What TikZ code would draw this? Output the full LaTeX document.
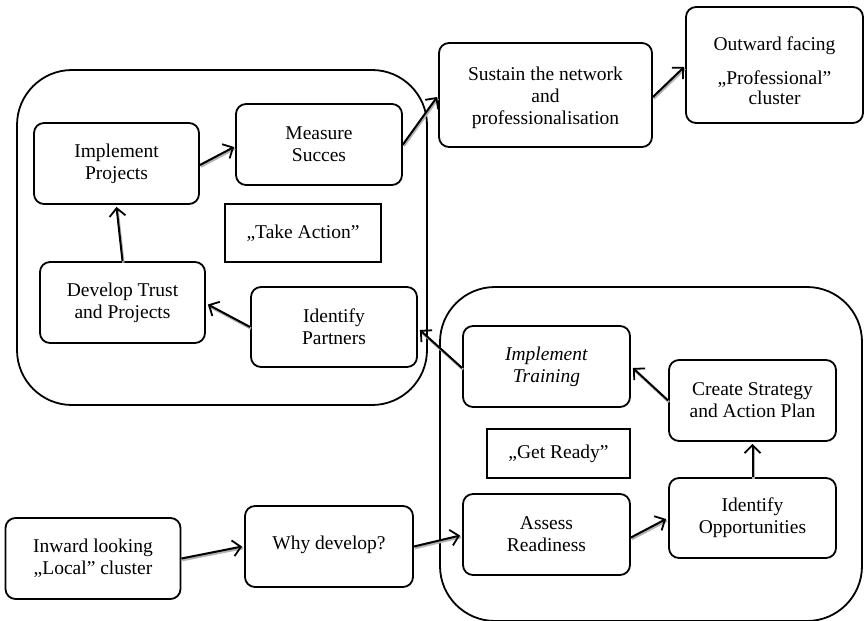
\documentclass[tikz,border=0pt]{standalone}
\usepackage{fontspec}
\setmainfont{Liberation Serif}
\usetikzlibrary{arrows.meta,calc}
\newcommand\shadowarrow[2]{%
  \draw[shad, transform canvas={shift={(0.9pt,-1.6pt)}}] #1 -- #2;
  \draw[arr] #1 -- #2;}
\begin{document}
\begin{tikzpicture}[x=1pt,y=-1pt,
  box/.style={draw, line width=1.8pt, rounded corners=10pt, align=center, inner sep=0pt,
    font=\fontsize{19.5}{22}\selectfont},
  lbl/.style={draw, line width=1.5pt, align=center, inner sep=0pt, font=\fontsize{19.5}{22}\selectfont},
  cont/.style={draw, line width=1.8pt, rounded corners=55pt},
  arr/.style={line width=2pt, -{Straight Barb[length=8pt,width=16pt,line width=1.8pt]}},
  shad/.style={draw=gray!60, line width=2.4pt}
]
\useasboundingbox (0,0) rectangle (865,621);
% containers
\draw[cont] (17,70) rectangle (427,405);
\draw[cont] (440,287) rectangle (862,621);
% nodes
\node[box, minimum width=165pt, minimum height=81pt] (ip) at (116.5,163.5) {Implement\\Projects};
\node[box, minimum width=166pt, minimum height=81pt] (ms) at (319,144.5) {Measure\\Succes};
\node[lbl, minimum width=156pt, minimum height=58pt] (ta) at (303,233) {„Take Action”};
\node[box, minimum width=165pt, minimum height=81pt] (dt) at (122.5,302.5) {Develop Trust\\and Projects};
\node[box, minimum width=166pt, minimum height=80pt] (idp) at (334,327) {Identify\\Partners};
\node[box, minimum width=213pt, minimum height=104pt] (su) at (545.5,95) {\parbox{200pt}{\centering\vspace*{6pt}Sustain the network\\and\\professionalisation}};
\node[box, minimum width=177pt, minimum height=116pt] (ou) at (774.5,65) {\parbox{170pt}{\centering\vspace*{12pt}Outward facing\\[12pt]„Professional”\\[-2pt]cluster}};
\node[box, minimum width=167pt, minimum height=81pt] (it) at (546.5,366.5) {\textit{Implement}\\\textit{Training}};
\node[box, minimum width=167pt, minimum height=81pt] (cs) at (752.5,400.5) {Create Strategy\\and Action Plan};
\node[lbl, minimum width=143pt, minimum height=49pt] (gr) at (558.5,453.5) {„Get Ready”};
\node[box, minimum width=167pt, minimum height=81pt] (ar) at (546.5,534.5) {Assess\\Readiness};
\node[box, minimum width=167pt, minimum height=80pt] (io) at (752.5,518) {Identify\\Opportunities};
\node[box, minimum width=168pt, minimum height=81pt] (wd) at (329,546.5) {\raisebox{8pt}{Why develop?}};
\node[box, minimum width=175pt, minimum height=81pt] (il) at (93,558.5) {\raisebox{6pt}{\parbox{170pt}{\centering Inward looking\\„Local” cluster}}};
% arrows
\shadowarrow{($(ip.east)+(0,1.5)$)}{($(ms.west)+(-1,2.5)$)}
\shadowarrow{(dt.north)}{($(ip.south)+(0,2)$)}
\shadowarrow{(idp.west)}{($(dt.east)+(2,2)$)}
\shadowarrow{(ms.east)}{($(su.west)+(-1,2)$)}
\shadowarrow{($(su.east)+(0,2)$)}{($(ou.west)+(-1,2)$)}
\shadowarrow{($(it.west)+(0,1.5)$)}{($(idp.east)+(2,3)$)}
\shadowarrow{(cs.west)}{($(it.east)+(2,1.5)$)}
\shadowarrow{(io.north)}{($(cs.south)+(0,2)$)}
\shadowarrow{($(ar.east)+(0,3)$)}{($(io.west)+(-2,1)$)}
\shadowarrow{(wd.east)}{($(ar.west)+(-2,1)$)}
\shadowarrow{(il.east)}{($(wd.west)+(-2,0)$)}
\end{tikzpicture}
\end{document}
